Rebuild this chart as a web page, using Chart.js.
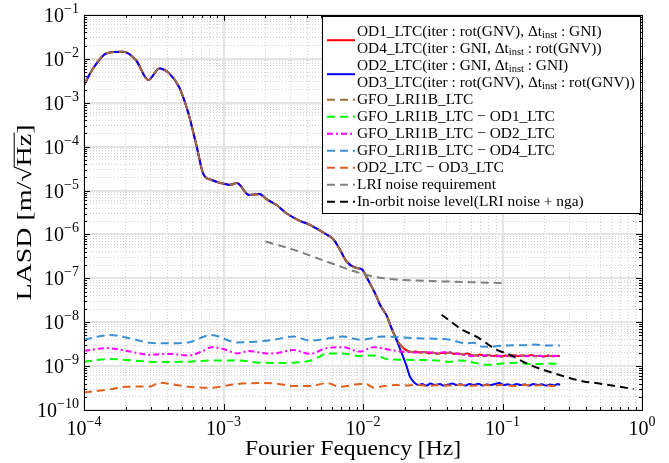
<!DOCTYPE html>
<html><head><meta charset="utf-8">
<script src="https://cdn.jsdelivr.net/npm/chart.js@4/dist/chart.umd.min.js"></script>
<style>html,body{margin:0;padding:0;background:#fff;}#wrap{width:669px;height:463px;}</style>
</head><body><div id="wrap"><canvas id="c" width="669" height="463"></canvas></div>
<script>
// ---------- axis ranges / ticks ----------
const xMin = 1e-4, xMax = 1, yMin = 1e-10, yMax = 1e-1;
const xTickExps = [-4, -3, -2, -1, 0];
const yTickExps = [-10, -9, -8, -7, -6, -5, -4, -3, -2, -1];

// ---------- data ----------
// common low-frequency part shared by OD1..OD4 and GFO_LRI1B_LTC
const commonFreq = [1.0e-4,1.135e-4,1.455e-4,1.905e-4,2.36e-4,2.89e-4,3.47e-4,4.08e-4,4.82e-4,5.6e-4,6.43e-4,7.16e-4,8.22e-4,8.93e-4,1.026e-3,1.114e-3,1.245e-3,1.53e-3,1.81e-3,2.04e-3,2.40e-3,2.84e-3,3.53e-3,4.17e-3,5.2e-3,6.12e-3,6.84e-3,7.64e-3,8.91e-3,9.8e-3,1.064e-2,1.153e-2,1.253e-2,1.324e-2,1.396e-2,1.479e-2,1.585e-2,1.70e-2];
const commonVal = [2.51e-3,5.37e-3,1.35e-2,1.45e-2,9.3e-3,3.31e-3,6.03e-3,4.68e-3,2.24e-3,5.75e-4,1.0e-4,2.4e-5,1.74e-5,1.58e-5,1.41e-5,1.35e-5,1.48e-5,7.9e-6,8.3e-6,6.3e-6,4.7e-6,3.0e-6,2.04e-6,1.66e-6,1.10e-6,7.8e-7,4.5e-7,2.4e-7,1.74e-7,1.62e-7,1.05e-7,6.5e-8,3.8e-8,2.5e-8,1.9e-8,1.41e-8,7.9e-9,4.7e-9];
// OD1/OD4 high-frequency tail
const od14TailFreq = [1.80e-2,1.90e-2,2.0e-2,2.11e-2,2.24e-2,2.4e-2,2.57e-2,2.75e-2,2.95e-2,3.16e-2,3.4e-2,3.65e-2,3.9e-2,4.2e-2,4.5e-2,4.8e-2,5.2e-2,5.6e-2,6.0e-2,6.4e-2,6.9e-2,7.4e-2,7.9e-2,8.5e-2,9.1e-2,9.8e-2,0.105,0.113,0.121,0.13,0.14,0.15,0.16,0.172,0.185,0.198,0.213,0.228,0.245,0.258];
const od14TailVal = [3.4e-9,2.8e-9,2.4e-9,2.2e-9,2.1e-9,2.15e-9,2.05e-9,2.1e-9,1.95e-9,2.05e-9,1.9e-9,2.0e-9,1.95e-9,2.05e-9,1.9e-9,1.95e-9,1.85e-9,1.95e-9,1.8e-9,1.75e-9,1.85e-9,1.7e-9,1.8e-9,1.7e-9,1.75e-9,1.65e-9,1.75e-9,1.7e-9,1.78e-9,1.68e-9,1.75e-9,1.7e-9,1.78e-9,1.68e-9,1.72e-9,1.66e-9,1.74e-9,1.68e-9,1.72e-9,1.68e-9];
// OD2/OD3 high-frequency tail
const od23TailFreq = [1.80e-2,1.897e-2,2.056e-2,2.17e-2,2.36e-2,2.49e-2,2.65e-2,2.85e-2,3.05e-2,3.3e-2,3.55e-2,3.8e-2,4.1e-2,4.4e-2,4.7e-2,5.0e-2,5.4e-2,5.8e-2,6.2e-2,6.7e-2,7.2e-2,7.7e-2,8.2e-2,8.8e-2,9.5e-2,0.102,0.109,0.117,0.126,0.135,0.145,0.155,0.166,0.178,0.19,0.205,0.22,0.236,0.25,0.258];
const od23TailVal = [3.0e-9,1.95e-9,9.8e-10,5.75e-10,4.1e-10,3.7e-10,3.9e-10,3.6e-10,4.0e-10,3.7e-10,3.9e-10,3.6e-10,3.8e-10,4.0e-10,3.7e-10,3.85e-10,3.6e-10,3.9e-10,3.7e-10,3.95e-10,3.6e-10,3.8e-10,3.7e-10,3.9e-10,4.1e-10,3.7e-10,3.85e-10,3.6e-10,3.9e-10,3.7e-10,3.8e-10,3.6e-10,3.9e-10,3.7e-10,3.85e-10,3.6e-10,3.8e-10,3.65e-10,3.9e-10,3.7e-10];
// GFO_LRI1B_LTC - OD1_LTC
const gfoOd1Freq = [1.0e-4,1.53e-4,2.0e-4,2.97e-4,4.0e-4,5.6e-4,8.2e-4,1.24e-3,1.81e-3,2.5e-3,3.16e-3,4.17e-3,4.8e-3,5.5e-3,7.6e-3,9.5e-3,1.1e-2,1.3e-2,1.48e-2,1.9e-2,2.43e-2,3.2e-2,4.27e-2,5.0e-2,6.5e-2,7.9e-2,0.1,0.126,0.155,0.178,0.21,0.258];
const gfoOd1Val = [1.26e-9,1.45e-9,1.38e-9,1.26e-9,1.24e-9,1.26e-9,1.35e-9,1.35e-9,1.20e-9,1.18e-9,1.20e-9,1.32e-9,1.6e-9,1.95e-9,1.9e-9,1.7e-9,1.75e-9,1.68e-9,1.45e-9,1.4e-9,1.38e-9,1.36e-9,1.26e-9,1.35e-9,1.17e-9,1.07e-9,1.15e-9,1.2e-9,1.12e-9,1.12e-9,1.15e-9,1.12e-9];
// GFO_LRI1B_LTC - OD2_LTC
const gfoOd2Freq = [1.0e-4,1.455e-4,2.0e-4,2.97e-4,4.1e-4,5.6e-4,7.1e-4,8.2e-4,1.02e-3,1.245e-3,1.53e-3,2.04e-3,2.3e-3,3.16e-3,4.17e-3,5.5e-3,7.2e-3,9.5e-3,1.19e-2,1.58e-2,1.9e-2,2.3e-2,2.8e-2,3.3e-2,4.0e-2,4.6e-2,5.2e-2,6.3e-2,7.5e-2,8.8e-2,0.1,0.115,0.13,0.15,0.17,0.195,0.22,0.258];
const gfoOd2Val = [2.24e-9,2.57e-9,2.24e-9,1.82e-9,1.9e-9,1.74e-9,2.2e-9,2.7e-9,2.4e-9,1.95e-9,2.2e-9,1.95e-9,1.95e-9,2.34e-9,1.9e-9,2.57e-9,2.7e-9,2.14e-9,2.7e-9,2.34e-9,2.14e-9,2.05e-9,2.1e-9,2.0e-9,2.1e-9,1.95e-9,1.82e-9,1.7e-9,1.75e-9,1.68e-9,1.72e-9,1.66e-9,1.74e-9,1.68e-9,1.72e-9,1.66e-9,1.72e-9,1.68e-9];
// GFO_LRI1B_LTC - OD4_LTC
const gfoOd4Freq = [1.0e-4,1.53e-4,2.0e-4,2.97e-4,4.0e-4,5.6e-4,8.2e-4,1.245e-3,1.7e-3,2.28e-3,3.16e-3,4.17e-3,5.5e-3,7.2e-3,9.5e-3,1.4e-2,2.4e-2,3.3e-2,4.2e-2,5.5e-2,6.2e-2,7.2e-2,8.5e-2,9.5e-2,0.12,0.145,0.17,0.21,0.258];
const gfoOd4Val = [3.98e-9,5.1e-9,4.5e-9,3.4e-9,3.3e-9,3.47e-9,5.1e-9,3.47e-9,3.6e-9,3.98e-9,4.7e-9,3.8e-9,4.2e-9,4.7e-9,3.98e-9,4.7e-9,4.3e-9,4.2e-9,3.98e-9,3.3e-9,3.4e-9,2.75e-9,2.8e-9,2.9e-9,3.0e-9,3.0e-9,3.1e-9,2.95e-9,2.95e-9];
// OD2_LTC - OD3_LTC
const od2Od3Freq = [1e-4,1.53e-4,2.0e-4,2.97e-4,3.5e-4,4.2e-4,5.6e-4,8.2e-4,1.0e-3,1.24e-3,1.81e-3,2.4e-3,3.16e-3,4.17e-3,5.5e-3,6.8e-3,8.0e-3,9.5e-3,1.05e-2,1.2e-2,1.4e-2,1.7e-2,2.0e-2,2.4e-2,2.9e-2,3.5e-2,4.2e-2,5.0e-2,6.0e-2,7.2e-2,8.6e-2,0.1,0.12,0.145,0.17,0.2,0.23,0.258];
const od2Od3Val = [2.5e-10,2.95e-10,3.4e-10,3.45e-10,4.2e-10,3.9e-10,3.4e-10,3.2e-10,3.5e-10,3.9e-10,4.1e-10,4.0e-10,3.5e-10,3.5e-10,4.1e-10,3.4e-10,3.6e-10,3.9e-10,3.9e-10,3.2e-10,3.5e-10,3.7e-10,3.6e-10,3.75e-10,3.55e-10,3.7e-10,3.6e-10,3.75e-10,3.55e-10,3.7e-10,3.6e-10,3.75e-10,3.5e-10,3.7e-10,3.6e-10,3.7e-10,3.5e-10,3.6e-10];
// LRI noise requirement
const lriReqFreq = [2.0e-3,3.16e-3,5.5e-3,9.5e-3,1.4e-2,2.43e-2,5.0e-2,0.1];
const lriReqVal = [6.9e-7,4.5e-7,2.4e-7,1.32e-7,1.0e-7,8.9e-8,8.3e-8,7.8e-8];
// In-orbit noise level
const inOrbitFreq = [3.66e-2,5.2e-2,6.5e-2,9.1e-2,0.107,0.157,0.244,0.38,0.47,0.87];
const inOrbitVal = [1.48e-8,6.6e-9,4.7e-9,2.34e-9,1.95e-9,1.07e-9,6.6e-10,4.47e-10,4.1e-10,3.0e-10];

// ---------- helpers ----------
const pts = (f, v) => f.map((x, i) => ({x, y: v[i]}));
const cat = (f1, v1, f2, v2) => pts(f1.concat(f2), v1.concat(v2));
const SERIF = '"Liberation Serif", "DejaVu Serif", serif';

const series = [
  {label: 'OD1/OD4', data: cat(commonFreq, commonVal, od14TailFreq, od14TailVal), color: '#ff0000', dash: []},
  {label: 'OD2/OD3', data: cat(commonFreq, commonVal, od23TailFreq, od23TailVal), color: '#0000ff', dash: []},
  {label: 'GFO_LRI1B_LTC', data: cat(commonFreq, commonVal, od14TailFreq, od14TailVal), color: '#a0703a', dash: [8, 5]},
  {label: 'GFO_LRI1B_LTC − OD1_LTC', data: pts(gfoOd1Freq, gfoOd1Val), color: '#00ff00', dash: [8, 5]},
  {label: 'GFO_LRI1B_LTC − OD2_LTC', data: pts(gfoOd2Freq, gfoOd2Val), color: '#ff00ff', dash: [6, 3, 2, 3]},
  {label: 'GFO_LRI1B_LTC − OD4_LTC', data: pts(gfoOd4Freq, gfoOd4Val), color: '#3a8fd6', dash: [8, 5]},
  {label: 'OD2_LTC − OD3_LTC', data: pts(od2Od3Freq, od2Od3Val), color: '#e0601e', dash: [8, 5]},
  {label: 'LRI noise requirement', data: pts(lriReqFreq, lriReqVal), color: '#808080', dash: [8, 5]},
  {label: 'In-orbit noise level', data: pts(inOrbitFreq, inOrbitVal), color: '#000000', dash: [8, 5]},
];

const datasets = series.map((s, i) => ({
  label: s.label, data: s.data, borderColor: s.color, backgroundColor: s.color,
  borderDash: s.dash, borderWidth: 2, pointRadius: 0, fill: false,
  cubicInterpolationMode: 'monotone', order: 100 - i
}));

// legend rows: segments [text, isSubscript]
const legendEntries = [
  {color: '#ff0000', dash: [], sampleRow: 0.5, rows: [
    [['OD1_LTC(iter : rot(GNV), Δt', 0], ['inst', 1], [' : GNI)', 0]],
    [['OD4_LTC(iter : GNI, Δt', 0], ['inst', 1], [' : rot(GNV))', 0]]]},
  {color: '#0000ff', dash: [], sampleRow: 0.5, rows: [
    [['OD2_LTC(iter : GNI, Δt', 0], ['inst', 1], [' : GNI)', 0]],
    [['OD3_LTC(iter : rot(GNV), Δt', 0], ['inst', 1], [' : rot(GNV))', 0]]]},
  {color: '#a0703a', dash: [8, 5], sampleRow: 0, rows: [[['GFO_LRI1B_LTC', 0]]]},
  {color: '#00ff00', dash: [8, 5], sampleRow: 0, rows: [[['GFO_LRI1B_LTC − OD1_LTC', 0]]]},
  {color: '#ff00ff', dash: [6, 3, 2, 3], sampleRow: 0, rows: [[['GFO_LRI1B_LTC − OD2_LTC', 0]]]},
  {color: '#3a8fd6', dash: [8, 5], sampleRow: 0, rows: [[['GFO_LRI1B_LTC − OD4_LTC', 0]]]},
  {color: '#e0601e', dash: [8, 5], sampleRow: 0, rows: [[['OD2_LTC − OD3_LTC', 0]]]},
  {color: '#808080', dash: [8, 5], sampleRow: 0, rows: [[['LRI noise requirement', 0]]]},
  {color: '#000000', dash: [8, 5], sampleRow: 0, rows: [[['In-orbit noise level(LRI noise + nga)', 0]]]},
];

function tickValues(exps) {
  const out = [];
  for (let k = 0; k < exps.length; k++) {
    const e = exps[k];
    if (k === exps.length - 1) { out.push({value: Math.pow(10, e), major: true}); break; }
    for (let m = 1; m <= 9; m++) out.push({value: parseFloat((m * Math.pow(10, e)).toPrecision(3)), major: m === 1});
  }
  return out;
}
const isMajorVal = v => Math.abs(Math.log10(v) - Math.round(Math.log10(v))) < 1e-6;

const gridColor = c => isMajorVal(c.tick.value) ? '#e4e4e4' : '#d2d2d2';
const gridWidth = c => isMajorVal(c.tick.value) ? 2 : 1;
const gridDash = c => (c.tick && isMajorVal(c.tick.value)) ? [] : [1, 2];

function drawSegs(ctx, segs, x, y, size) {
  for (const [t, sub] of segs) {
    if (sub) {
      ctx.font = (size * 0.68).toFixed(2) + 'px ' + SERIF;
      ctx.fillText(t, x, y + size * 0.22);
    } else {
      ctx.font = size + 'px ' + SERIF;
      ctx.fillText(t, x, y);
    }
    x += ctx.measureText(t).width;
  }
  return x;
}
function segsWidth(ctx, segs, size) {
  let w = 0;
  for (const [t, sub] of segs) {
    ctx.font = (sub ? size * 0.68 : size).toFixed(2) + 'px ' + SERIF;
    w += ctx.measureText(t).width;
  }
  return w;
}

const decor = {
  id: 'decor',
  afterDatasetsDraw(chart) {
    const ctx = chart.ctx, a = chart.chartArea;
    const xs = chart.scales.x, ys = chart.scales.y;
    ctx.save();
    // inner ticks on all four sides
    ctx.strokeStyle = '#000'; ctx.lineWidth = 1; ctx.setLineDash([]);
    ctx.beginPath();
    for (const t of tickValues(xTickExps)) {
      const px = Math.round(xs.getPixelForValue(t.value)) + 0.5, L = t.major ? 6 : 3;
      ctx.moveTo(px, a.bottom); ctx.lineTo(px, a.bottom - L);
      ctx.moveTo(px, a.top); ctx.lineTo(px, a.top + L);
    }
    for (const t of tickValues(yTickExps)) {
      const py = Math.round(ys.getPixelForValue(t.value)) + 0.5, L = t.major ? 6 : 3;
      ctx.moveTo(a.left, py); ctx.lineTo(a.left + L, py);
      ctx.moveTo(a.right, py); ctx.lineTo(a.right - L, py);
    }
    ctx.stroke();
    // frame
    ctx.strokeRect(Math.round(a.left) + 0.5, Math.round(a.top) + 0.5, Math.round(a.right - a.left), Math.round(a.bottom - a.top));

    // tick labels
    ctx.fillStyle = '#000'; ctx.textBaseline = 'alphabetic'; ctx.textAlign = 'left';
    const bs = 20, es = 14;
    for (const e of xTickExps) {
      const px = xs.getPixelForValue(Math.pow(10, e));
      const et = e < 0 ? '\u2212' + (-e) : String(e);
      ctx.font = bs + 'px ' + SERIF; const wb = ctx.measureText('10').width;
      ctx.font = es + 'px ' + SERIF; const we = ctx.measureText(et).width;
      let x0 = px - (wb + we) / 2;
      ctx.font = bs + 'px ' + SERIF; ctx.fillText('10', x0, a.bottom + 25);
      ctx.font = es + 'px ' + SERIF; ctx.fillText(et, x0 + wb, a.bottom + 16);
    }
    for (const e of yTickExps) {
      const py = ys.getPixelForValue(Math.pow(10, e));
      const et = '\u2212' + (-e);
      ctx.font = bs + 'px ' + SERIF; const wb = ctx.measureText('10').width;
      ctx.font = es + 'px ' + SERIF; const we = ctx.measureText(et).width;
      const x0 = a.left - 5 - (wb + we);
      ctx.font = bs + 'px ' + SERIF; ctx.fillText('10', x0, py + 7);
      ctx.font = es + 'px ' + SERIF; ctx.fillText(et, x0 + wb, py - 2);
    }
    // axis titles (Liberation Serif stretched to the reference's wider face)
    const ts = 21;
    ctx.font = ts + 'px ' + SERIF; ctx.textAlign = 'left';
    const xt = 'Fourier Fequency [Hz]';
    const xw = ctx.measureText(xt).width;
    const sc = 216 / xw;
    ctx.save();
    ctx.translate(353 - 216 / 2, 455);
    ctx.scale(sc, 1);
    ctx.fillText(xt, 0, 0);
    ctx.restore();

    ctx.save();
    ctx.translate(31, (a.top + a.bottom) / 2); ctx.rotate(-Math.PI / 2);
    const p1 = 'LASD [m/\u221A', p2 = 'Hz', p3 = ']';
    const w1 = ctx.measureText(p1).width, w2 = ctx.measureText(p2).width, w3 = ctx.measureText(p3).width;
    const ysc = 176 / (w1 + w2 + w3);
    ctx.translate(-176 / 2, 0);
    ctx.scale(ysc, 1);
    ctx.fillText(p1, 0, 0); ctx.fillText(p2, w1, 0); ctx.fillText(p3, w1 + w2, 0);
    ctx.lineWidth = 1; ctx.beginPath();
    ctx.moveTo(w1 - 1, -ts * 0.8); ctx.lineTo(w1 + w2 + 1, -ts * 0.8); ctx.stroke();
    ctx.restore();

    // legend
    const lx = 322, ly = 16, lw = 318, lh = 197;
    ctx.fillStyle = '#fff'; ctx.fillRect(lx, ly, lw, lh);
    ctx.strokeStyle = '#000'; ctx.lineWidth = 1; ctx.setLineDash([]);
    ctx.strokeRect(lx + 0.5, ly + 0.5, lw, lh);
    // font size fitted to widest row
    let ls = 14.5;
    const widest = legendEntries[1].rows[1];
    const target = 278;
    ls = ls * target / segsWidth(ctx, widest, ls);
    ctx.textAlign = 'left'; ctx.textBaseline = 'middle'; ctx.fillStyle = '#000';
    let row = 0; const r0 = 31.7, rh = 17.0;
    for (const en of legendEntries) {
      const sy = r0 + (row + en.sampleRow) * rh;
      ctx.strokeStyle = en.color; ctx.lineWidth = 2; ctx.setLineDash(en.dash);
      ctx.beginPath(); ctx.moveTo(327, sy); ctx.lineTo(355, sy); ctx.stroke();
      ctx.setLineDash([]);
      for (const segs of en.rows) {
        drawSegs(ctx, segs, 357, r0 + row * rh, ls);
        row++;
      }
    }
    ctx.restore();
  }
};

new Chart(document.getElementById('c'), {
  type: 'line',
  data: {datasets},
  options: {
    responsive: false, animation: false, devicePixelRatio: 1,
    layout: {padding: {left: 84, right: 27, top: 15, bottom: 53}},
    plugins: {legend: {display: false}, tooltip: {enabled: false}},
    elements: {point: {radius: 0}},
    scales: {
      x: {type: 'logarithmic', min: xMin, max: xMax,
        afterBuildTicks: s => { s.ticks = tickValues(xTickExps); },
        ticks: {display: false, autoSkip: false},
        grid: {color: gridColor, lineWidth: gridWidth, drawTicks: false},
        border: {display: false, dash: gridDash}},
      y: {type: 'logarithmic', min: yMin, max: yMax,
        afterBuildTicks: s => { s.ticks = tickValues(yTickExps); },
        ticks: {display: false, autoSkip: false},
        grid: {color: gridColor, lineWidth: gridWidth, drawTicks: false},
        border: {display: false, dash: gridDash}}
    }
  },
  plugins: [decor]
});
</script>
</body></html>
